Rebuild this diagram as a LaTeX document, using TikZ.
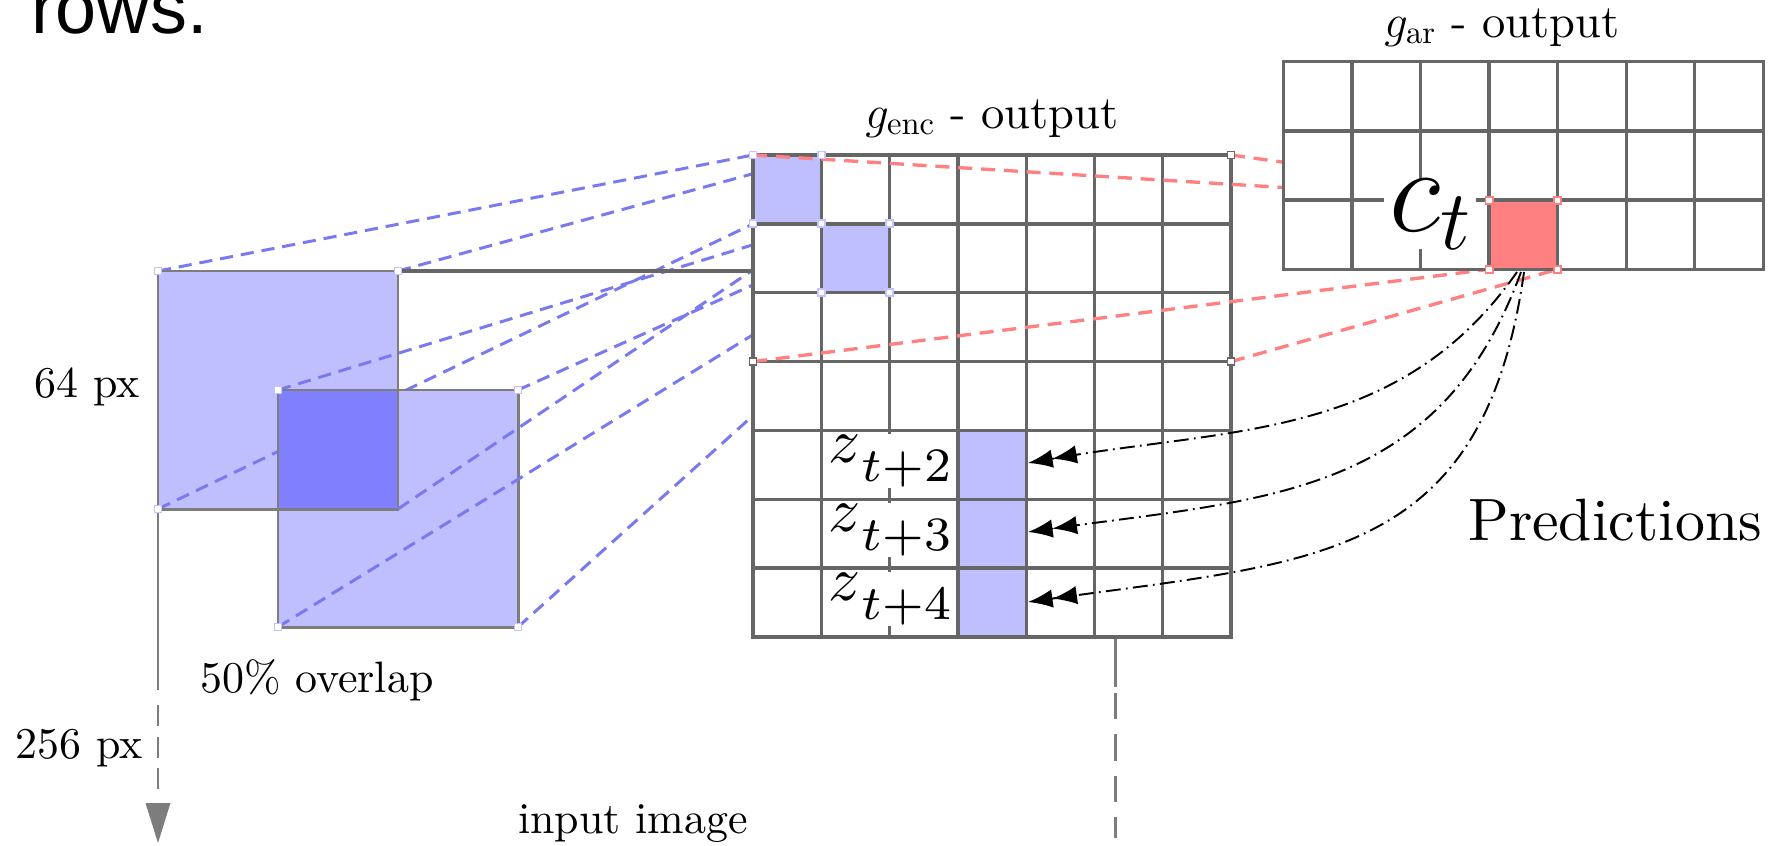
\RequirePackage{fix-cm}
\documentclass[tikz,border=0pt]{standalone}
\usepackage{graphicx}
\usepackage{fontspec}
\setmainfont{lmroman10-regular}[Extension=.otf]
\newfontfamily\rowsfont{Liberation Sans}
\usetikzlibrary{arrows.meta}
\definecolor{gridgray}{RGB}{102,102,102}
\definecolor{patchgray}{RGB}{125,125,125}
\definecolor{lblue}{RGB}{191,191,255}
\definecolor{mblue}{RGB}{128,128,255}
\definecolor{dblue}{RGB}{122,122,240}
\definecolor{lred}{RGB}{255,128,128}
\definecolor{mkblue}{RGB}{196,196,255}
\newcommand{\zlabel}[1]{\scalebox{3.6}{$z$}\raisebox{-10.8pt}{\scalebox{3.9}{$\scriptstyle t+#1$}}}
\begin{document}
\begin{tikzpicture}[x=0.02cm,y=-0.02cm,
  gline/.style={draw=gridgray,line width=1.9pt,line cap=rect},
  pline/.style={draw=patchgray,line width=1.7pt},
  bdash/.style={draw=dblue,line width=1.7pt,dash pattern=on 7.5pt off 4.5pt},
  rdash/.style={draw=lred,line width=1.9pt,dash pattern=on 8pt off 5pt},
  mk/.style={draw=#1,fill=white,line width=1.1pt,minimum size=4pt,inner sep=0pt,rectangle},
  txt/.style={font=\fontsize{25}{30}\selectfont,inner sep=0pt},
  ttl/.style={font=\fontsize{26.5}{31}\selectfont,inner sep=0pt},
  zlab/.style={fill=white,inner xsep=2pt,inner ysep=0.6pt,font=\fontsize{10}{12}\selectfont},
  pred/.style={draw=black,line width=1.1pt,dash pattern=on 8.5pt off 3pt on 1pt off 3pt,
    -{Latex[length=14pt,width=10.5pt]Latex[length=14pt,width=10.5pt]}},
]
\useasboundingbox (0,0) rectangle (1771,845);
% ---------- coordinates
\coordinate (A1) at (158,271); \coordinate (A2) at (398,271);
\coordinate (A3) at (158,509); \coordinate (A4) at (398,509);
\coordinate (B1) at (278,390); \coordinate (B2) at (518,390);
\coordinate (B3) at (278,627); \coordinate (B4) at (518,627);
\coordinate (E00) at (753,155);   \coordinate (E10) at (821.3,155);
\coordinate (E01) at (753,223.9); \coordinate (E11) at (821.3,223.9); \coordinate (E21) at (889.6,223.9);
\coordinate (E12) at (821.3,292.7); \coordinate (E22) at (889.6,292.7);
\coordinate (E70) at (1231,155); \coordinate (E03) at (753,361.6); \coordinate (E73) at (1231,361.6);
\coordinate (Eend) at (1231,637);
\coordinate (R1) at (1489,200.1); \coordinate (R2) at (1557.6,200.1);
\coordinate (R3) at (1489,269.3); \coordinate (R4) at (1557.6,269.3);
% ---------- input patches
\fill[lblue] (A1) rectangle (A4);
\draw[bdash] (A1) -- (E00);
\draw[bdash] (A2) -- (E10);
\draw[bdash] (A3) -- (E01);
\fill[lblue] (B1) rectangle (B4);
\fill[mblue] (B1) rectangle (A4);
\draw[pline] (A1) rectangle (A4);
\draw[pline] (B1) rectangle (B4);
\draw[bdash] (A4) -- (E11);
\draw[bdash] (B1) -- (E11);
\draw[bdash] (B2) -- (E21);
\draw[bdash] (B3) -- (E12);
\draw[bdash] (B4) -- (E22);
% ---------- input image edges
\coordinate (imgR) at (753,271);
\draw[gline,line cap=butt] (A2) -- (imgR);
\coordinate (L1) at (158,690); \coordinate (L2) at (158,705); \coordinate (L3) at (158,792);
\draw[pline] (A3) -- (L1);
\draw[pline,dash pattern=on 12pt off 6pt] (L2) -- (L3);
\fill[patchgray] (145.5,803) -- (170.5,803) -- (158,843) -- cycle;
\coordinate (V0) at (1115,637); \coordinate (V1) at (1115,687);
\coordinate (V2) at (1115,693); \coordinate (V3) at (1115,838);
\draw[pline] (V0) -- (V1);
\draw[pline,dash pattern=on 15pt off 8.5pt] (V2) -- (V3);
% ---------- g_enc grid
\fill[white] (E00) rectangle (Eend);
\fill[lblue] (E00) rectangle (E11);
\fill[lblue] (E11) rectangle (E22);
\fill[lblue] (957.9,430.4) rectangle (1026.2,637);
\foreach \i in {0,...,7} \draw[gline] ({753+\i*68.29},155) -- ({753+\i*68.29},637);
\foreach \j in {0,...,7} \draw[gline] (753,{155+\j*68.86}) -- (1231,{155+\j*68.86});
% ---------- red dashed receptive lines
\draw[rdash] (E00) -- (R1);
\draw[rdash] (E70) -- (R2);
\draw[rdash] (E03) -- (R3);
\draw[rdash] (E73) -- (R4);
% ---------- g_ar grid
\fill[white] (1283.3,61.7) rectangle (1763.3,269.3);
\fill[lred] (R1) rectangle (R4);
\foreach \i in {0,...,7} \draw[gline] ({1283.3+\i*68.57},61.7) -- ({1283.3+\i*68.57},269.3);
\foreach \j in {0,...,3} \draw[gline] (1283.3,{61.7+\j*69.2}) -- (1763.3,{61.7+\j*69.2});
% ---------- corner marks
\foreach \p in {A1,A2,A3,B1,B2,B3,B4,E00,E10,E01,E11,E21,E12,E22}
  \node[mk=mkblue] (m\p) at (\p) {};
\foreach \p in {E70,E03,E73}
  \node[mk=gridgray] (m\p) at (\p) {};
\foreach \p in {R1,R2,R3,R4}
  \node[mk=lred] (m\p) at (\p) {};
% ---------- labels in grids
\node[zlab,anchor=base] (z2) at (890,462.5) {\zlabel{2}};
\node[zlab,anchor=base] (z3) at (890,531.4) {\zlabel{3}};
\node[zlab,anchor=base] (z4) at (890,600.2) {\zlabel{4}};
\node[fill=white,inner xsep=3pt,inner ysep=0pt,anchor=base,font=\fontsize{69}{80}\selectfont] (ct) at (1430,231) {$c_t$};
% ---------- prediction arrows
\coordinate (s2) at (1517,272); \coordinate (s3) at (1521,272); \coordinate (s4) at (1524,272);
\coordinate (a2) at (1028,463); \coordinate (a3) at (1028,532); \coordinate (a4) at (1028,602);
\draw[pred] (s2) to[out=-125,in=10] (a2);
\draw[pred] (s3) to[out=-110,in=8,looseness=1.1] (a3);
\draw[pred] (s4) to[out=-98,in=8,looseness=1.25] (a4);
% ---------- texts
\node[ttl,anchor=base] (tenc) at (992,128) {$g_{\mathrm{enc}}$ - output};
\node[ttl,anchor=base] (tar) at (1502,37) {$g_{\mathrm{ar}}$ - output};
\node[txt,anchor=base east] (l64) at (140,397) {64 px};
\node[txt,anchor=base east] (l256) at (143,758) {256 px};
\node[txt,anchor=base west] (lov) at (200,692) {50\% overlap};
\node[txt,anchor=base west] (lin) at (518,833) {input image};
\node[font=\fontsize{34}{40}\selectfont,inner sep=0pt,anchor=base west] (lpred) at (1468,540) {Predictions};
\node[font=\rowsfont\fontsize{42}{50}\selectfont,inner sep=0pt,anchor=base west] (rows) at (31,33) {rows.};
\end{tikzpicture}
\end{document}
